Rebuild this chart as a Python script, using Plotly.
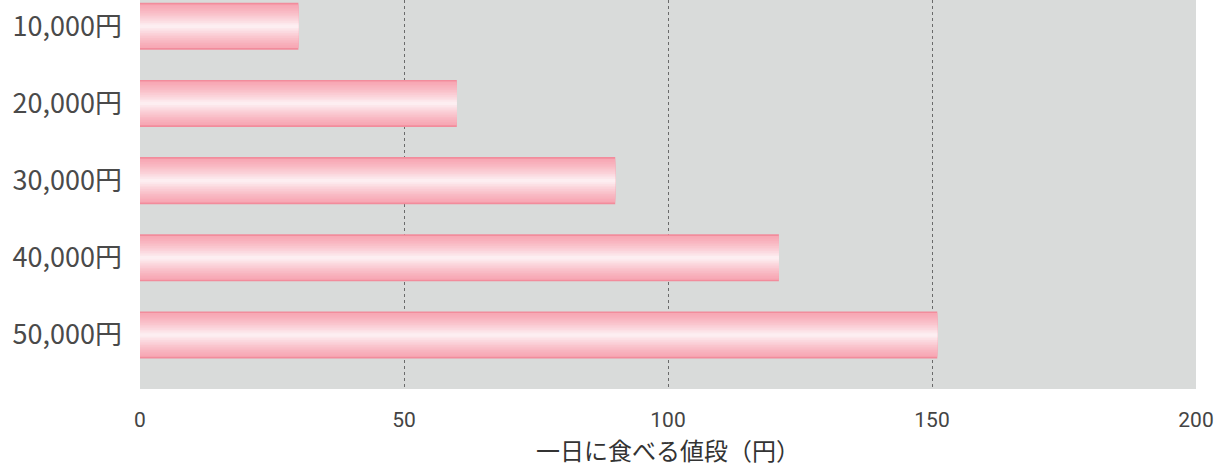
import plotly.graph_objects as go

categories = ["10,000円", "20,000円", "30,000円", "40,000円", "50,000円"]
values = [30, 60, 90, 121, 151]
x_ticks = [0, 50, 100, 150, 200]
x_title = "一日に食べる値段（円）"

def lerp(c1, c2, t):
    return "rgb(%d,%d,%d)" % tuple(round(a + (b - a) * t) for a, b in zip(c1, c2))

edge = (242, 140, 156)
pink = (247, 165, 178)
white = (253, 238, 241)

fig = go.Figure()
bar_w = 0.61
N = 14
for k in range(N):
    t = k / (N - 1)
    w = bar_w * (1 - k / N)
    col = lerp(edge, pink, 0) if k == 0 else lerp(pink, white, t ** 1.3)
    fig.add_trace(go.Bar(
        x=values, y=categories, orientation="h", width=w,
        marker=dict(color=col, line=dict(width=0)),
        hoverinfo="skip", showlegend=False,
    ))

fig.update_layout(
    width=1218, height=470,
    margin=dict(l=140, r=22, t=0, b=81),
    paper_bgcolor="white",
    plot_bgcolor="#d9dbda",
    barmode="overlay",
    font=dict(family="Noto Sans CJK JP", color="#444444"),
)
fig.update_xaxes(
    range=[0, 200], tickvals=x_ticks,
    showgrid=True, gridcolor="#6a6a6a", griddash="dot", gridwidth=1,
    zeroline=False, showline=False,
    tickfont=dict(family="Roboto", size=21, color="#444444"),
    ticklabelstandoff=16,
    title=dict(text=x_title, font=dict(family="Noto Sans CJK JP", size=24, color="#333333"), standoff=8),
)
fig.update_yaxes(
    categoryorder="array", categoryarray=categories,
    range=[4.7, -0.34],
    showgrid=False, zeroline=False, showline=False,
    tickfont=dict(family="Noto Sans CJK JP", size=27, color="#4a4a4a"),
    ticklabelstandoff=17,
)

fig.write_html("out.html")
